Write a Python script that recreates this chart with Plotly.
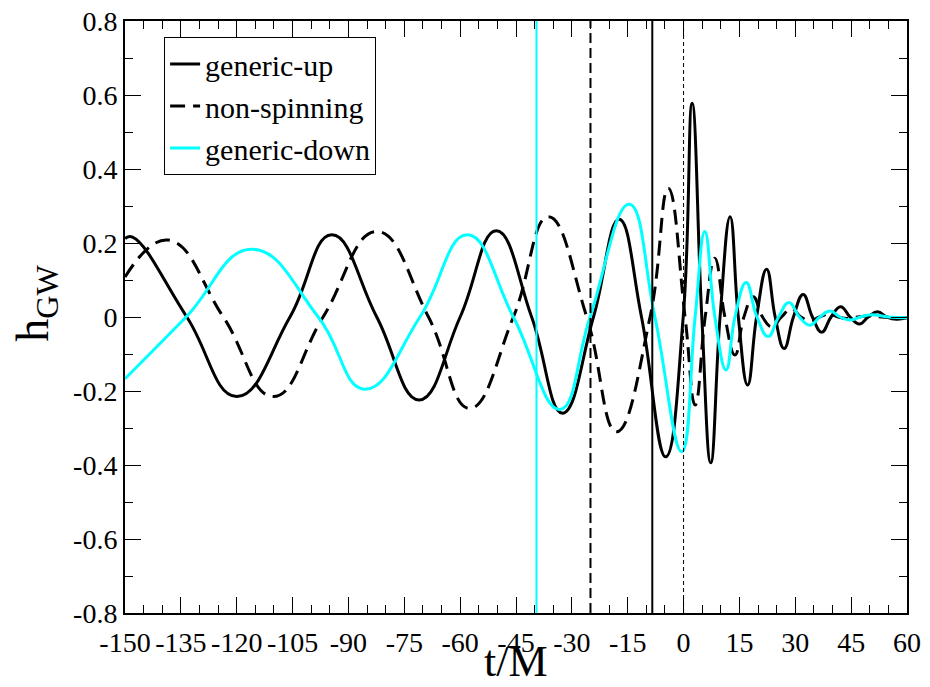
import plotly.graph_objects as go

# ---- data ----
t_up = [-150, -148.0, -133.4, -120.0, -105.7, -94.5, -82.4, -71.0, -60.0, -50.3, -40.8, -32.5,
        -24.2, -17.3, -11.3, -4.8, -0.1, 2.3, 4.9, 7.3, 9.8, 12.5, 14.7, 17.2, 19.6, 22.3,
        24.6, 27.0, 29.5, 32.1, 34.6, 37.1, 39.6, 42.2, 44.7, 47.2, 49.6, 52.1, 54.6, 57.2, 60]
h_up = [0.212, 0.216, 0.0, -0.215, 0.0, 0.222, 0.0, -0.224, 0.0, 0.233, 0.0, -0.260,
        0.0, 0.264, 0.0, -0.378, 0.0, 0.578, 0.0, -0.394, 0.0, 0.271, 0.0, -0.184, 0.0, 0.129,
        0.0, -0.085, 0.0, 0.061, 0.0, -0.041, 0.0, 0.028, 0.0, -0.019, 0.0, 0.014, 0.0, -0.006, -0.002]

t_ns = [-150, -138.4, -123.6, -110.2, -96.8, -82.4, -68.5, -57.5, -45.7, -36.3, -26.0, -18.0,
        -9.0, -4.1, 0.4, 3.1, 5.8, 8.4, 11.1, 13.8, 16.2, 18.7, 21.2, 23.7, 26.3, 29.0,
        31.5, 34.0, 36.5, 39.0, 41.5, 44.0, 49.0, 54.0, 60]
h_ns = [0.108, 0.208, 0.0, -0.215, 0.0, 0.231, 0.0, -0.247, 0.0, 0.271, 0.0, -0.310,
        0.0, 0.348, 0.0, -0.238, 0.0, 0.159, 0.0, -0.103, 0.0, 0.055, 0.0, -0.026, 0.0, 0.023,
        0.0, -0.010, 0.0, 0.008, 0.0, -0.004, 0.003, -0.001, -0.002]

t_dn = [-150, -133.6, -116.0, -98.1, -85.6, -70.8, -58.1, -45.7, -33.2, -25.1, -14.6, -7.7,
        -0.5, 3.1, 5.7, 8.4, 11.4, 13.8, 16.8, 19.7, 22.7, 25.5, 28.3, 31.1, 33.9, 36.6,
        39.3, 42.0, 44.6, 47.5, 50.5, 55.0, 60]
h_dn = [-0.167, 0.0, 0.183, 0.0, -0.195, 0.0, 0.222, 0.0, -0.250, 0.0, 0.305, 0.0,
        -0.364, 0.0, 0.231, 0.0, -0.143, 0.0, 0.093, 0.0, -0.053, 0.0, 0.039, 0.0, -0.022, 0.0,
        0.016, 0.0, -0.008, 0.0, 0.006, 0.0, -0.002]

# vertical marker times
t_mark_dn = -39.5
t_mark_ns = -25.0
t_mark_up = -8.4
t_mark_zero = 0.0

x_tickvals = [-150, -135, -120, -105, -90, -75, -60, -45, -30, -15, 0, 15, 30, 45, 60]
x_ticktext = ["-150", "-135", "-120", "-105", "-90", "-75", "-60", "-45", "-30", "-15",
              "0", "15", "30", "45", "60"]
y_tickvals = [-0.8, -0.6, -0.4, -0.2, 0, 0.2, 0.4, 0.6, 0.8]
y_ticktext = ["-0.8", "-0.6", "-0.4", "-0.2", "0", "0.2", "0.4", "0.6", "0.8"]
x_title = "t/M"
y_title = "h<sub>GW</sub>"

FONT = "Times New Roman, Liberation Serif, serif"
CYAN = "#00FFFF"

fig = go.Figure()
spl = dict(shape="spline", smoothing=1.3)
fig.add_trace(go.Scatter(x=t_up, y=h_up, mode="lines", name="generic-up",
                         line=dict(color="black", width=3, **spl)))
fig.add_trace(go.Scatter(x=t_ns, y=h_ns, mode="lines", name="non-spinning",
                         line=dict(color="black", width=3, dash="15px,8px", **spl)))
fig.add_trace(go.Scatter(x=t_dn, y=h_dn, mode="lines", name="generic-down",
                         line=dict(color=CYAN, width=3, **spl)))

for xv, col, w, d in [(t_mark_dn, CYAN, 2, "solid"), (t_mark_ns, "black", 2, "10px,5px"),
                      (t_mark_up, "black", 2, "solid"), (t_mark_zero, "black", 1, "4px,3px")]:
    fig.add_shape(type="line", xref="x", yref="paper", x0=xv, x1=xv, y0=0, y1=1,
                  line=dict(color=col, width=w, dash=d))

axis_common = dict(showgrid=False, zeroline=False, showline=True, linecolor="black",
                   linewidth=2, mirror="allticks", ticks="inside", tickcolor="black",
                   tickwidth=1, automargin=False,
                   tickfont=dict(family=FONT, size=28, color="black"))

fig.update_xaxes(range=[-150, 60], tickmode="array", tickvals=x_tickvals, ticktext=x_ticktext,
                 ticklen=16, ticklabelstandoff=3,
                 minor=dict(dtick=5, ticklen=8, ticks="inside", tickcolor="black"),
                 **axis_common)
fig.update_yaxes(range=[-0.8, 0.8], tickmode="array", tickvals=y_tickvals, ticktext=y_ticktext,
                 ticklen=16, minor=dict(dtick=0.1, ticklen=8, ticks="inside", tickcolor="black"),
                 **axis_common)

fig.add_annotation(text=x_title, xref="paper", yref="paper", x=0.5, y=-0.082,
                   xanchor="center", yanchor="middle", showarrow=False,
                   font=dict(family=FONT, size=44, color="black"))
fig.add_annotation(text=y_title, xref="paper", yref="paper", x=-0.114, y=0.524,
                   xanchor="center", yanchor="middle", showarrow=False, textangle=-90,
                   font=dict(family=FONT, size=46, color="black"))

fig.update_layout(
    width=930, height=687,
    margin=dict(l=125, r=23, t=21, b=74),
    paper_bgcolor="white", plot_bgcolor="white",
    font=dict(family=FONT, color="black"),
    legend=dict(x=0.05, y=0.973, xanchor="left", yanchor="top",
                bgcolor="white", bordercolor="black", borderwidth=1,
                font=dict(family=FONT, size=30, color="black"),
                itemwidth=30, tracegroupgap=0, entrywidth=185),
)

fig.write_html("out.html")
